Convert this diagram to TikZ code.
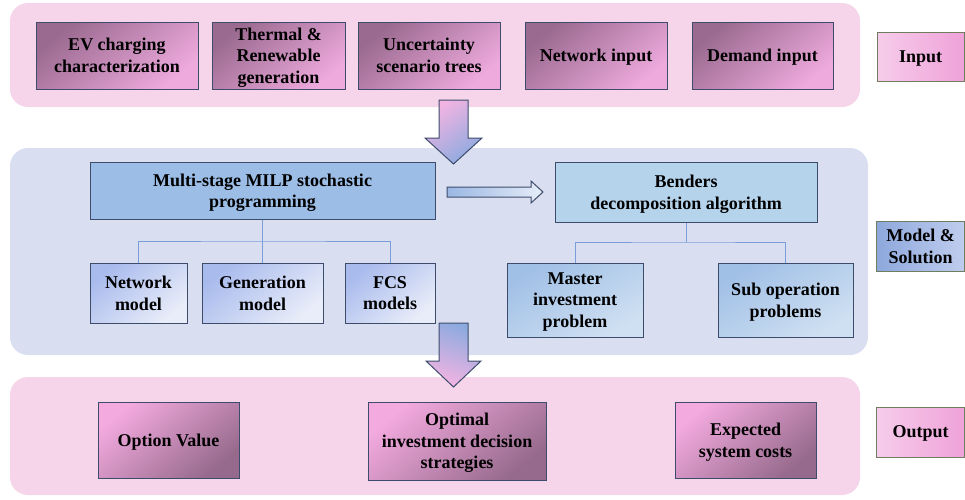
\documentclass[tikz,border=0pt]{standalone}
\usepackage{fontspec}
\setmainfont{Liberation Serif}
\begin{document}
\definecolor{panelpink}{HTML}{F6D4E9}
\definecolor{panelblue}{HTML}{D9DFF0}
\definecolor{edgenavy}{HTML}{3E4C6C}
\definecolor{edgegreen}{HTML}{6E7D5E}
\definecolor{linkblue}{HTML}{7A9EDA}
\definecolor{mauvedark}{HTML}{9A6A90}
\definecolor{mauvelight}{HTML}{EEAADD}
\definecolor{pinkbright}{HTML}{F3AADF}
\definecolor{mauvedeep}{HTML}{966A8C}
\definecolor{modelfill}{HTML}{9BBDE6}
\definecolor{algfill}{HTML}{B6D3EC}
\definecolor{subtop}{HTML}{A9BBED}
\definecolor{subbot}{HTML}{E9EDF9}
\definecolor{algtop}{HTML}{A1C0E6}
\definecolor{algbot}{HTML}{CFE0F2}
\definecolor{lpinkl}{HTML}{F6CCEA}
\definecolor{lpinkr}{HTML}{EFA2D9}
\definecolor{lbluel}{HTML}{8EA8DC}
\definecolor{lbluer}{HTML}{BFCDEE}
\definecolor{arrpink}{HTML}{F4B4E2}
\definecolor{arrblue}{HTML}{8CAADF}
\definecolor{shaftblue}{HTML}{9AB7E3}
\definecolor{shaftpale}{HTML}{E6EDF8}
\begin{tikzpicture}[x=1pt,y=-1pt,
  every node/.style={font=\fontsize{18}{21.5}\selectfont\bfseries, align=center, inner sep=0pt, text depth=0pt},
  panel/.style={rounded corners=18pt},
  box/.style={draw=edgenavy, line width=1pt, rectangle},
  inbox/.style={box, top color=mauvedark, bottom color=mauvelight, shading angle=40},
  outbox/.style={box, top color=pinkbright, bottom color=mauvedeep, shading angle=40},
  modelbox/.style={box, fill=modelfill},
  algbox/.style={box, fill=algfill},
  submodel/.style={box, top color=subtop, bottom color=subbot, shading angle=40},
  subalg/.style={box, top color=algtop, bottom color=algbot, shading angle=30},
  pinklabel/.style={draw=edgegreen, line width=1pt, left color=lpinkl, right color=lpinkr},
  bluelabel/.style={draw=edgegreen, line width=1pt, left color=lbluel, right color=lbluer},
  link/.style={draw=linkblue, line width=0.9pt},
  bigarrow/.style={draw=edgenavy, line width=1pt, line join=miter}
]
\useasboundingbox (0,0) rectangle (965,499);

% stage panels
\fill[panelpink, panel] (10,3) rectangle (860,107);
\fill[panelblue, panel] (10,148) rectangle (868,355);
\fill[panelpink, panel] (10,377) rectangle (860,495);

% input stage
\node[inbox, minimum width=162pt, minimum height=67pt] (ev) at (117,55.5) {EV charging\\characterization};
\node[inbox, minimum width=133pt, minimum height=67pt] (th) at (278.5,55.5) {Thermal \&\\Renewable\\generation};
\node[inbox, minimum width=142pt, minimum height=67pt] (un) at (429,55.5) {Uncertainty\\scenario trees};
\node[inbox, minimum width=142pt, minimum height=67pt] (ni) at (596,55.5) {Network input};
\node[inbox, minimum width=141pt, minimum height=67pt] (di) at (762.5,55.5) {Demand input};
\node[pinklabel, minimum width=87pt, minimum height=49pt] (lin) at (920.5,56.5) {Input};

% arrow from input to model
\shade[bigarrow, top color=arrpink, bottom color=arrblue, shading angle=35]
  (439,100) -- (468,100) -- (468,138) -- (482,138) -- (453.5,164) -- (425,138) -- (439,138) -- cycle;

% model stage
\node[modelbox, minimum width=345pt, minimum height=57pt] (milp) at (262.5,190.5) {Multi-stage MILP stochastic\\programming};
\node[submodel, minimum width=97pt, minimum height=60pt] (netm) at (138.5,293) {Network\\model};
\node[submodel, minimum width=121pt, minimum height=60pt] (genm) at (262.5,293) {Generation\\model};
\node[submodel, minimum width=90pt, minimum height=60pt] (fcs) at (390,293) {FCS\\models};

\node[algbox, minimum width=262pt, minimum height=60pt] (bend) at (686,192) {Benders\\decomposition algorithm};
\node[subalg, minimum width=136pt, minimum height=74pt] (mast) at (575,300) {Master\\investment\\problem};
\node[subalg, minimum width=135pt, minimum height=74pt] (sub) at (785.5,300) {Sub operation\\problems};

\node[bluelabel, minimum width=88pt, minimum height=50pt] (lms) at (920.5,246) {Model \&\\Solution};

% tree links
\coordinate (mj) at (262.5,241);
\path[link] (milp.south) -- (mj);
\path[link] (netm.north) |- (mj) -| (fcs.north);
\path[link] (mj) -- (genm.north);
\coordinate (bj) at (686,242);
\path[link] (bend.south) -- (bj);
\path[link] (mast.north) |- (bj) -| (sub.north);

% arrow from model to algorithm
\shade[bigarrow, left color=shaftblue, right color=shaftpale]
  (447,187) -- (531,187) -- (531,181) -- (543,192) -- (531,203) -- (531,197) -- (447,197) -- cycle;

% arrow from model to output
\shade[bigarrow, top color=arrblue, bottom color=arrpink, shading angle=-20]
  (439,323) -- (468,323) -- (468,361) -- (481,361) -- (453.5,387) -- (426,361) -- (439,361) -- cycle;

% output stage
\node[outbox, minimum width=141pt, minimum height=76pt] (ov) at (168.5,440) {Option Value};
\node[outbox, minimum width=178pt, minimum height=78pt] (opt) at (457,441) {Optimal\\investment decision\\strategies};
\node[outbox, minimum width=141pt, minimum height=76pt] (exc) at (745.5,440) {Expected\\system costs};
\node[pinklabel, minimum width=88pt, minimum height=50pt] (lout) at (920.5,432) {Output};
\end{tikzpicture}
\end{document}
